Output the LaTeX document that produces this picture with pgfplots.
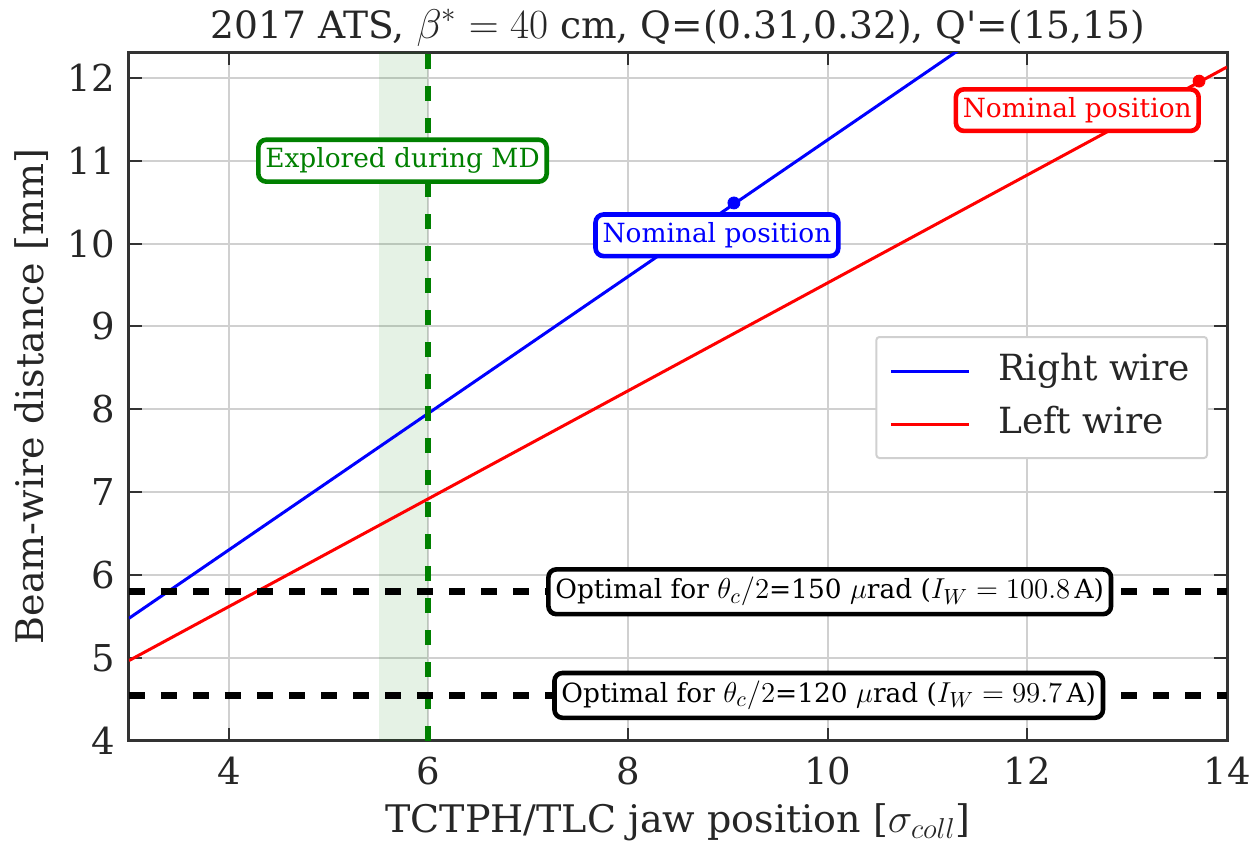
\documentclass[border=0pt]{standalone}
\usepackage{fontspec}
\setmainfont{DejaVu Serif}
\usepackage{pgfplots}
\pgfplotsset{compat=1.18}

\definecolor{spine}{HTML}{333333}
\definecolor{txt}{HTML}{262626}
\definecolor{gridc}{HTML}{D0D0D0}
\definecolor{mplblue}{rgb}{0,0,1}
\definecolor{mplred}{rgb}{1,0,0}
\definecolor{mplgreen}{rgb}{0,0.5,0}

% math set a little larger so that it sits well beside DejaVu Serif
\newcommand{\bm}[2]{{\fontsize{#1}{#1}\selectfont$#2$}}

\tikzset{
  annot/.style={draw=#1, text=#1, fill=white, line width=2.3pt,
    rounded corners=4pt, inner xsep=3.5pt, inner ysep=4pt,
    font=\fontsize{13.2}{15}\selectfont},
}

\begin{document}
\begin{tikzpicture}
\begin{axis}[
  at={(0,0)}, anchor=south west,
  scale only axis, width=549pt, height=344.5pt,
  xmin=3, xmax=14, ymin=4, ymax=12.311,
  xtick={4,6,...,14}, ytick={4,...,12},
  grid=major,
  major grid style={gridc, line width=1pt},
  axis line style={spine, line width=1.5pt},
  tick style={spine, line width=1pt},
  major tick length=6.5pt,
  tick align=inside,
  /pgf/number format/assume math mode=true,
  ticklabel style={font=\fontsize{18.5}{20}\selectfont, text=txt, inner sep=0pt},
  xticklabel style={anchor=base, yshift=-22pt},
  yticklabel style={anchor=east, xshift=-7pt},
  title={2017 ATS, \bm{21}{\beta^{*}=40} cm, Q=(0.31,0.32), Q\textquotesingle=(15,15)},
  title style={at={([yshift=1pt]axis description cs:0.5,1)}, anchor=base,
    font=\fontsize{18.8}{21}\selectfont, text=txt, inner sep=0pt},
  xlabel={TCTPH/TLC jaw position [\bm{22}{\sigma_{coll}}]},
  xlabel style={at={([yshift=-45.5pt]axis description cs:0.5,0)}, anchor=base,
    font=\fontsize{19}{21}\selectfont, text=txt, inner sep=0pt},
  ylabel={Beam-wire distance [mm]},
  ylabel style={at={([xshift=-42.5pt]axis description cs:0,0.5)}, anchor=base,
    font=\fontsize{19}{21}\selectfont, text=txt, inner sep=0pt},
  legend style={at={(0.9827,0.5878)}, anchor=north east,
    draw=gridc, line width=1pt, rounded corners=1.5pt, fill=white,
    inner xsep=6.5pt, inner ysep=6pt, row sep=4.5pt, column sep=12pt,
    font=\fontsize{18}{20}\selectfont, text=txt,
    nodes={inner sep=2pt, text height=13.5pt, text depth=4.5pt}},
  legend cell align=left,
  legend image code/.code={%
    \draw[#1, line width=1.5pt] (0pt,0pt) -- (39pt,0pt);},
]

% band of jaw settings explored during the MD
\addplot[draw=none, fill=mplgreen, fill opacity=0.1, forget plot]
  coordinates {(5.5,4) (5.5,12.311) (6,12.311) (6,4)} -- cycle;

% beam-wire distance versus jaw position
\addplot[mplblue, line width=1.5pt] coordinates {(3,5.48) (14,14.55)};
\addlegendentry{Right wire}
\addplot[mplred, line width=1.5pt] coordinates {(3,4.97) (14,12.13)};
\addlegendentry{Left wire}

% nominal positions
\addplot[mplblue, only marks, mark=*, mark size=3pt, forget plot] coordinates {(9.06,10.49)};
\addplot[mplred, only marks, mark=*, mark size=3pt, forget plot] coordinates {(13.72,11.96)};

% jaw setting and optimal distances
\addplot[mplgreen, line width=3pt, dash pattern=on 7.5pt off 8.5pt, forget plot]
  coordinates {(6,4) (6,12.311)};
\addplot[black, line width=3.5pt, dash pattern=on 8pt off 8pt, forget plot]
  coordinates {(3,5.80) (14,5.80)};
\addplot[black, line width=3.5pt, dash pattern=on 8pt off 8pt, forget plot]
  coordinates {(3,4.55) (14,4.55)};

\node[annot=mplgreen] at (axis cs:5.74,11.0) {Explored during MD};
\node[annot=mplblue] at (axis cs:8.89,10.10) {Nominal position};
\node[annot=mplred] at (axis cs:12.50,11.61) {Nominal position};
\node[annot=black] at (axis cs:10.02,5.80)
  {Optimal for \bm{15.5}{\theta_c/2}=150 \bm{15.5}{\mu}rad (\bm{15.5}{I_W=100.8}\,A)};
\node[annot=black] at (axis cs:10.01,4.55)
  {Optimal for \bm{15.5}{\theta_c/2}=120 \bm{15.5}{\mu}rad (\bm{15.5}{I_W=99.7}\,A)};
\end{axis}
\pgfresetboundingbox
\useasboundingbox (-64.5pt,-52pt) rectangle (561.5pt,370.5pt);
\end{tikzpicture}
\end{document}
